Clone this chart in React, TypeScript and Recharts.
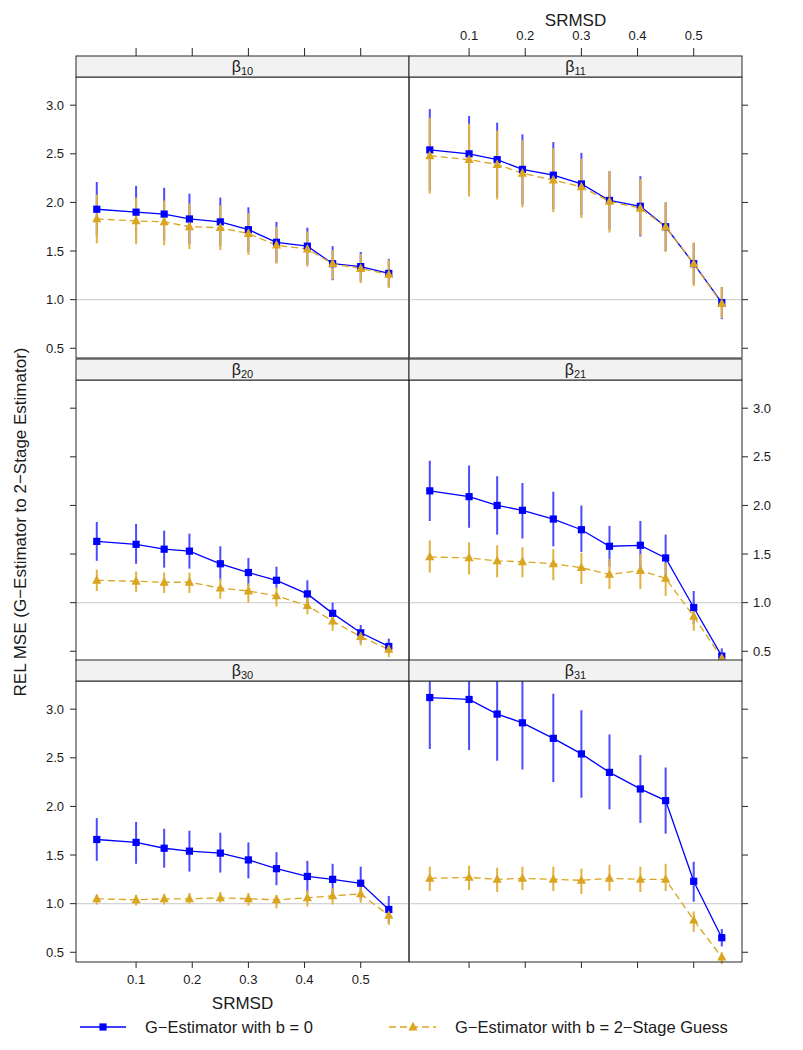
import React from 'react';
import { LineChart, Line, XAxis, YAxis, ErrorBar, ReferenceLine } from 'recharts';

// ---------- data ----------
const SRMSD = [0.03, 0.1, 0.15, 0.195, 0.25, 0.3, 0.35, 0.405, 0.45, 0.5, 0.55];
const X_TICKS = [0.1, 0.2, 0.3, 0.4, 0.5];
const Y_TICKS = [0.5, 1.0, 1.5, 2.0, 2.5, 3.0];
const X_DOMAIN: [number, number] = [-0.007, 0.586];
const Y_DOMAIN: [number, number] = [0.4, 3.29];

const SERIES_NAMES = ['G\u2212Estimator with b = 0', 'G\u2212Estimator with b = 2\u2212Stage Guess'];
const X_TITLE = 'SRMSD';
const Y_TITLE = 'REL MSE (G\u2212Estimator to 2\u2212Stage Estimator)';

// beta10
const b10Blue = [1.93, 1.9, 1.88, 1.83, 1.8, 1.72, 1.59, 1.55, 1.37, 1.34, 1.27];
const b10BlueLo = [1.66, 1.63, 1.61, 1.57, 1.55, 1.49, 1.38, 1.36, 1.2, 1.19, 1.13];
const b10BlueHi = [2.21, 2.17, 2.15, 2.09, 2.05, 1.95, 1.8, 1.74, 1.55, 1.49, 1.42];
const b10Gold = [1.83, 1.81, 1.8, 1.75, 1.74, 1.68, 1.56, 1.52, 1.37, 1.32, 1.26];
const b10GoldLo = [1.58, 1.57, 1.56, 1.52, 1.51, 1.46, 1.37, 1.34, 1.21, 1.17, 1.12];
const b10GoldHi = [2.08, 2.05, 2.02, 1.99, 1.97, 1.89, 1.75, 1.7, 1.51, 1.47, 1.41];

// beta11
const b11Blue = [2.54, 2.5, 2.44, 2.34, 2.28, 2.19, 2.02, 1.96, 1.75, 1.37, 0.97];
const b11BlueLo = [2.12, 2.11, 2.06, 1.98, 1.93, 1.87, 1.72, 1.65, 1.5, 1.16, 0.8];
const b11BlueHi = [2.96, 2.89, 2.82, 2.7, 2.62, 2.51, 2.32, 2.27, 2.0, 1.58, 1.13];
const b11Gold = [2.48, 2.44, 2.39, 2.3, 2.23, 2.16, 2.01, 1.94, 1.75, 1.37, 0.96];
const b11GoldLo = [2.09, 2.06, 2.03, 1.95, 1.9, 1.84, 1.69, 1.66, 1.49, 1.14, 0.81];
const b11GoldHi = [2.87, 2.81, 2.74, 2.64, 2.56, 2.45, 2.32, 2.24, 2.0, 1.59, 1.13];

// beta20
const b20Blue = [1.63, 1.6, 1.55, 1.53, 1.4, 1.31, 1.23, 1.09, 0.89, 0.69, 0.55];
const b20BlueLo = [1.43, 1.4, 1.36, 1.35, 1.23, 1.17, 1.15, 0.96, 0.78, 0.59, 0.48];
const b20BlueHi = [1.83, 1.81, 1.74, 1.71, 1.58, 1.46, 1.37, 1.23, 1.0, 0.77, 0.63];
const b20Gold = [1.23, 1.22, 1.21, 1.21, 1.15, 1.12, 1.07, 0.97, 0.81, 0.65, 0.52];
const b20GoldLo = [1.12, 1.11, 1.1, 1.1, 1.04, 1.0, 0.96, 0.88, 0.71, 0.56, 0.44];
const b20GoldHi = [1.34, 1.32, 1.31, 1.31, 1.25, 1.2, 1.16, 1.06, 0.9, 0.73, 0.59];

// beta21
const b21Blue = [2.15, 2.09, 2.0, 1.95, 1.86, 1.75, 1.58, 1.59, 1.46, 0.95, 0.45];
const b21BlueLo = [1.84, 1.77, 1.7, 1.66, 1.58, 1.52, 1.37, 1.34, 1.22, 0.78, 0.42];
const b21BlueHi = [2.46, 2.41, 2.3, 2.23, 2.14, 2.0, 1.79, 1.84, 1.7, 1.12, 0.53];
const b21Gold = [1.47, 1.46, 1.43, 1.42, 1.4, 1.36, 1.29, 1.33, 1.25, 0.86, 0.43];
const b21GoldLo = [1.31, 1.29, 1.26, 1.26, 1.23, 1.19, 1.14, 1.14, 1.07, 0.71, 0.4];
const b21GoldHi = [1.64, 1.62, 1.59, 1.57, 1.55, 1.51, 1.45, 1.5, 1.41, 0.95, 0.47];

// beta30
const b30Blue = [1.66, 1.63, 1.57, 1.54, 1.52, 1.45, 1.36, 1.28, 1.25, 1.21, 0.94];
const b30BlueLo = [1.44, 1.41, 1.37, 1.33, 1.32, 1.26, 1.19, 1.11, 1.09, 1.04, 0.8];
const b30BlueHi = [1.88, 1.84, 1.77, 1.75, 1.73, 1.63, 1.53, 1.44, 1.41, 1.38, 1.08];
const b30Gold = [1.05, 1.04, 1.05, 1.05, 1.06, 1.05, 1.04, 1.06, 1.08, 1.1, 0.88];
const b30GoldLo = [0.99, 0.98, 0.99, 1.0, 1.01, 0.98, 0.95, 0.97, 0.99, 1.01, 0.78];
const b30GoldHi = [1.09, 1.09, 1.1, 1.11, 1.12, 1.11, 1.09, 1.14, 1.16, 1.19, 0.94];

// beta31
const b31Blue = [3.12, 3.1, 2.95, 2.86, 2.7, 2.54, 2.35, 2.18, 2.06, 1.23, 0.65];
const b31BlueLo = [2.59, 2.58, 2.47, 2.38, 2.25, 2.09, 1.97, 1.83, 1.72, 1.02, 0.56];
const b31BlueHi = [3.65, 3.62, 3.43, 3.34, 3.16, 2.99, 2.74, 2.53, 2.4, 1.43, 0.74];
const b31Gold = [1.26, 1.27, 1.25, 1.26, 1.25, 1.24, 1.26, 1.25, 1.25, 0.83, 0.45];
const b31GoldLo = [1.13, 1.14, 1.12, 1.14, 1.13, 1.1, 1.13, 1.12, 1.13, 0.71, 0.38];
const b31GoldHi = [1.38, 1.39, 1.37, 1.38, 1.38, 1.36, 1.4, 1.38, 1.41, 0.92, 0.5];

const PANELS = [
  { sub: '10', row: 0, col: 0, blue: b10Blue, blueLo: b10BlueLo, blueHi: b10BlueHi, gold: b10Gold, goldLo: b10GoldLo, goldHi: b10GoldHi },
  { sub: '11', row: 0, col: 1, blue: b11Blue, blueLo: b11BlueLo, blueHi: b11BlueHi, gold: b11Gold, goldLo: b11GoldLo, goldHi: b11GoldHi },
  { sub: '20', row: 1, col: 0, blue: b20Blue, blueLo: b20BlueLo, blueHi: b20BlueHi, gold: b20Gold, goldLo: b20GoldLo, goldHi: b20GoldHi },
  { sub: '21', row: 1, col: 1, blue: b21Blue, blueLo: b21BlueLo, blueHi: b21BlueHi, gold: b21Gold, goldLo: b21GoldLo, goldHi: b21GoldHi },
  { sub: '30', row: 2, col: 0, blue: b30Blue, blueLo: b30BlueLo, blueHi: b30BlueHi, gold: b30Gold, goldLo: b30GoldLo, goldHi: b30GoldHi },
  { sub: '31', row: 2, col: 1, blue: b31Blue, blueLo: b31BlueLo, blueHi: b31BlueHi, gold: b31Gold, goldLo: b31GoldLo, goldHi: b31GoldHi },
];

// ---------- style / layout ----------
const FONT = '"Liberation Sans", Arial, Helvetica, sans-serif';
const BLUE = '#0000FF';
const GOLD = '#DAA520';
const BLUE_BAR = '#4B4BFF';
const GOLD_BAR = '#E2B140';
const AXIS = '#262626';
const TEXT = '#1a1a1a';

const COL_X = [76, 409];
const ROW_Y = [77, 380, 681];
const STRIP_Y = [56, 359, 660];
const PW = 333;
const PH = 281;
const STRIP_H = 21;
const AX_L = 45;
const AX_R = 45;
const AX_T = 60;
const AX_B = 40;

function buildRows(p: any) {
  return SRMSD.map((x, i) => ({
    x,
    blue: p.blue[i],
    blueErr: [p.blue[i] - p.blueLo[i], p.blueHi[i] - p.blue[i]],
    gold: p.gold[i],
    goldErr: [p.gold[i] - p.goldLo[i], p.goldHi[i] - p.gold[i]],
  }));
}

const renderSquare = (props: any) => {
  const { cx, cy, index } = props;
  if (cx == null || cy == null) return <g key={`s-${index}`} />;
  return <rect key={`s-${index}`} x={cx - 3.6} y={cy - 3.6} width={7.2} height={7.2} fill={BLUE} />;
};

const renderTriangle = (props: any) => {
  const { cx, cy, index } = props;
  if (cx == null || cy == null) return <g key={`t-${index}`} />;
  const pts = `${cx},${cy - 5.2} ${cx - 4.6},${cy + 3.4} ${cx + 4.6},${cy + 3.4}`;
  return <polygon key={`t-${index}`} points={pts} fill={GOLD} />;
};

const xTick = (show: boolean, pos: 'top' | 'bottom') => (props: any) => {
  const { x, y, payload } = props;
  if (!show) return <g />;
  return (
    <text x={x} y={y} dy={pos === 'top' ? 0 : 10} textAnchor="middle" fontSize={13} fontFamily={FONT} fill={TEXT}>
      {Number(payload.value).toFixed(1)}
    </text>
  );
};

const yTick = (show: boolean, pos: 'left' | 'right') => (props: any) => {
  const { x, y, payload } = props;
  if (!show) return <g />;
  return (
    <text x={x} y={y} dy={4.6} textAnchor={pos === 'left' ? 'end' : 'start'} fontSize={13} fontFamily={FONT} fill={TEXT}>
      {Number(payload.value).toFixed(1)}
    </text>
  );
};

function Panel({ p }: { p: any }) {
  const { row, col } = p;
  const data = buildRows(p);
  const topTicks = row === 0;
  const topLabels = row === 0 && col === 1;
  const botTicks = row === 2;
  const botLabels = row === 2 && col === 0;
  const leftTicks = col === 0;
  const leftLabels = col === 0 && row !== 1;
  const rightTicks = col === 1;
  const rightLabels = col === 1 && row === 1;
  const line = { stroke: AXIS, strokeWidth: 1 };
  const clip = row === 0 ? undefined : `inset(${AX_T - 0.5}px 0px 0px 0px)`;
  return (
    <div
      style={{
        position: 'absolute',
        left: COL_X[col] - AX_L,
        top: ROW_Y[row] - AX_T,
        clipPath: clip,
      }}
    >
      <LineChart
        width={PW + AX_L + AX_R}
        height={PH + AX_T + AX_B}
        data={data}
        margin={{ top: 0, right: 0, bottom: 0, left: 0 }}
      >
        <XAxis
          xAxisId="top"
          orientation="top"
          type="number"
          dataKey="x"
          domain={X_DOMAIN}
          allowDataOverflow
          ticks={X_TICKS}
          interval={0}
          height={AX_T}
          axisLine={line}
          tickLine={topTicks ? line : false}
          tickSize={29}
          tickMargin={8}
          tick={xTick(topLabels, 'top')}
        />
        <XAxis
          xAxisId="bottom"
          orientation="bottom"
          type="number"
          dataKey="x"
          domain={X_DOMAIN}
          allowDataOverflow
          ticks={X_TICKS}
          interval={0}
          height={AX_B}
          axisLine={line}
          tickLine={botTicks ? line : false}
          tickSize={6}
          tickMargin={6}
          tick={xTick(botLabels, 'bottom')}
        />
        <YAxis
          yAxisId="left"
          orientation="left"
          type="number"
          domain={Y_DOMAIN}
          allowDataOverflow
          ticks={Y_TICKS}
          interval={0}
          width={AX_L}
          axisLine={line}
          tickLine={leftTicks ? line : false}
          tickSize={6}
          tickMargin={6}
          tick={yTick(leftLabels, 'left')}
        />
        <YAxis
          yAxisId="right"
          orientation="right"
          type="number"
          domain={Y_DOMAIN}
          allowDataOverflow
          ticks={Y_TICKS}
          interval={0}
          width={AX_R}
          axisLine={line}
          tickLine={rightTicks ? line : false}
          tickSize={6}
          tickMargin={5}
          tick={yTick(rightLabels, 'right')}
        />
        <ReferenceLine xAxisId="bottom" yAxisId="left" y={1} stroke="#d4d4d4" strokeWidth={1.2} />
        <Line
          xAxisId="bottom"
          yAxisId="left"
          dataKey="blue"
          stroke={BLUE}
          strokeWidth={1.3}
          dot={renderSquare}
          activeDot={false}
          isAnimationActive={false}
        >
          <ErrorBar dataKey="blueErr" direction="y" width={0} stroke={BLUE_BAR} strokeWidth={2} />
        </Line>
        <Line
          xAxisId="bottom"
          yAxisId="left"
          dataKey="gold"
          stroke={GOLD}
          strokeWidth={1.3}
          strokeDasharray="7 4"
          dot={renderTriangle}
          activeDot={false}
          isAnimationActive={false}
        >
          <ErrorBar dataKey="goldErr" direction="y" width={0} stroke={GOLD_BAR} strokeWidth={2} />
        </Line>
      </LineChart>
    </div>
  );
}

function Overlay() {
  return (
    <svg
      width={803}
      height={1050}
      style={{ position: 'absolute', left: 0, top: 0, pointerEvents: 'none' }}
    >
      {PANELS.map((p) => (
        <g key={`strip-${p.sub}`}>
          <rect
            x={COL_X[p.col]}
            y={STRIP_Y[p.row]}
            width={PW}
            height={STRIP_H}
            fill="#F2F2F2"
            stroke={AXIS}
            strokeWidth={1}
          />
          <text
            x={COL_X[p.col] + PW / 2}
            y={STRIP_Y[p.row] + 16}
            textAnchor="middle"
            fontFamily={FONT}
            fill={TEXT}
          >
            <tspan fontSize={16}>{'\u03B2'}</tspan>
            <tspan fontSize={11} dy={3}>{p.sub}</tspan>
          </text>
        </g>
      ))}
      <text x={COL_X[1] + PW / 2} y={26} textAnchor="middle" fontSize={17} fontFamily={FONT} fill={TEXT}>
        {X_TITLE}
      </text>
      <text x={COL_X[0] + PW / 2} y={1009} textAnchor="middle" fontSize={17} fontFamily={FONT} fill={TEXT}>
        {X_TITLE}
      </text>
      <text
        x={20}
        y={522}
        textAnchor="middle"
        fontSize={17}
        fontFamily={FONT}
        fill={TEXT}
        transform="rotate(-90, 20, 522)"
        dy={6}
      >
        {Y_TITLE}
      </text>
      {/* legend */}
      <g>
        <line x1={80} y1={1027} x2={126} y2={1027} stroke={BLUE} strokeWidth={1.3} />
        <rect x={103 - 3.6} y={1027 - 3.6} width={7.2} height={7.2} fill={BLUE} />
        <text x={145} y={1032.5} fontSize={16.5} fontFamily={FONT} fill={TEXT}>
          {SERIES_NAMES[0]}
        </text>
        <line x1={389} y1={1027} x2={436} y2={1027} stroke={GOLD} strokeWidth={1.3} strokeDasharray="7 4" />
        <polygon points={`413,${1027 - 5.2} ${413 - 4.6},${1027 + 3.4} ${413 + 4.6},${1027 + 3.4}`} fill={GOLD} />
        <text x={455} y={1032.5} fontSize={16.5} fontFamily={FONT} fill={TEXT}>
          {SERIES_NAMES[1]}
        </text>
      </g>
    </svg>
  );
}

export default function App() {
  return (
    <div style={{ position: 'absolute', left: 0, top: 0, width: 803, height: 1050, background: '#fff' }}>
      {PANELS.map((p) => (
        <Panel key={p.sub} p={p} />
      ))}
      <Overlay />
    </div>
  );
}
